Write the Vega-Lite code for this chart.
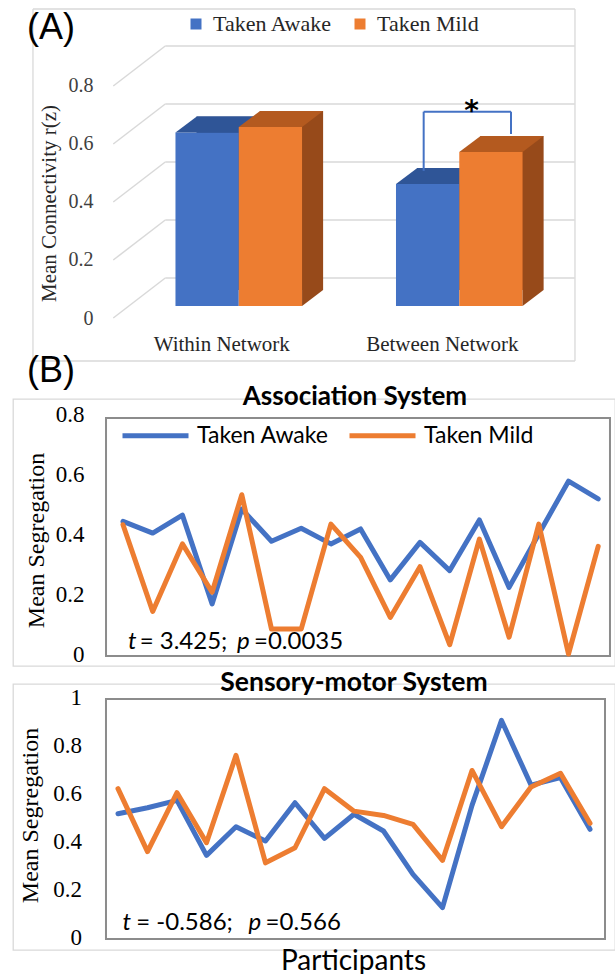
{
  "$schema": "https://vega.github.io/schema/vega-lite/v6.json",
  "padding": {"left": 12, "top": 8, "right": 0, "bottom": 0},
  "background": "white",
  "bounds": "flush",
  "spacing": 18,
  "resolve": {"scale": {"color": "independent"}, "legend": {"color": "independent"}},
  "config": {
    "font": "Lato",
    "view": {"stroke": "#d9d9d9", "strokeWidth": 1.3},
    "axis": {"grid": false, "domain": false, "ticks": false},
    "legend": {"padding": 0}
  },
  "datasets": {
    "bars": [
      {"cat": "Within Network", "series": "Taken Awake", "value": 0.598},
      {"cat": "Within Network", "series": "Taken Mild", "value": 0.617},
      {"cat": "Between Network", "series": "Taken Awake", "value": 0.421},
      {"cat": "Between Network", "series": "Taken Mild", "value": 0.531}
    ],
    "grid": [{"value": 0}, {"value": 0.2}, {"value": 0.4}, {"value": 0.6}, {"value": 0.8}],
    "assoc": [
      {"participant": 1, "series": "Taken Awake", "seg": 0.442},
      {"participant": 2, "series": "Taken Awake", "seg": 0.403},
      {"participant": 3, "series": "Taken Awake", "seg": 0.463},
      {"participant": 4, "series": "Taken Awake", "seg": 0.167},
      {"participant": 5, "series": "Taken Awake", "seg": 0.483},
      {"participant": 6, "series": "Taken Awake", "seg": 0.376},
      {"participant": 7, "series": "Taken Awake", "seg": 0.419},
      {"participant": 8, "series": "Taken Awake", "seg": 0.367},
      {"participant": 9, "series": "Taken Awake", "seg": 0.417},
      {"participant": 10, "series": "Taken Awake", "seg": 0.247},
      {"participant": 11, "series": "Taken Awake", "seg": 0.372},
      {"participant": 12, "series": "Taken Awake", "seg": 0.278},
      {"participant": 13, "series": "Taken Awake", "seg": 0.447},
      {"participant": 14, "series": "Taken Awake", "seg": 0.222},
      {"participant": 15, "series": "Taken Awake", "seg": 0.400},
      {"participant": 16, "series": "Taken Awake", "seg": 0.576},
      {"participant": 17, "series": "Taken Awake", "seg": 0.517},
      {"participant": 1, "series": "Taken Mild", "seg": 0.431},
      {"participant": 2, "series": "Taken Mild", "seg": 0.142},
      {"participant": 3, "series": "Taken Mild", "seg": 0.367},
      {"participant": 4, "series": "Taken Mild", "seg": 0.206},
      {"participant": 5, "series": "Taken Mild", "seg": 0.531},
      {"participant": 6, "series": "Taken Mild", "seg": 0.083},
      {"participant": 7, "series": "Taken Mild", "seg": 0.083},
      {"participant": 8, "series": "Taken Mild", "seg": 0.433},
      {"participant": 9, "series": "Taken Mild", "seg": 0.322},
      {"participant": 10, "series": "Taken Mild", "seg": 0.122},
      {"participant": 11, "series": "Taken Mild", "seg": 0.291},
      {"participant": 12, "series": "Taken Mild", "seg": 0.031},
      {"participant": 13, "series": "Taken Mild", "seg": 0.383},
      {"participant": 14, "series": "Taken Mild", "seg": 0.056},
      {"participant": 15, "series": "Taken Mild", "seg": 0.433},
      {"participant": 16, "series": "Taken Mild", "seg": 0.0},
      {"participant": 17, "series": "Taken Mild", "seg": 0.359}
    ],
    "sensory": [
      {"participant": 1, "series": "Taken Awake", "seg": 0.515},
      {"participant": 2, "series": "Taken Awake", "seg": 0.540},
      {"participant": 3, "series": "Taken Awake", "seg": 0.571},
      {"participant": 4, "series": "Taken Awake", "seg": 0.341},
      {"participant": 5, "series": "Taken Awake", "seg": 0.461},
      {"participant": 6, "series": "Taken Awake", "seg": 0.401},
      {"participant": 7, "series": "Taken Awake", "seg": 0.561},
      {"participant": 8, "series": "Taken Awake", "seg": 0.412},
      {"participant": 9, "series": "Taken Awake", "seg": 0.513},
      {"participant": 10, "series": "Taken Awake", "seg": 0.443},
      {"participant": 11, "series": "Taken Awake", "seg": 0.262},
      {"participant": 12, "series": "Taken Awake", "seg": 0.123},
      {"participant": 13, "series": "Taken Awake", "seg": 0.550},
      {"participant": 14, "series": "Taken Awake", "seg": 0.905},
      {"participant": 15, "series": "Taken Awake", "seg": 0.635},
      {"participant": 16, "series": "Taken Awake", "seg": 0.666},
      {"participant": 17, "series": "Taken Awake", "seg": 0.450},
      {"participant": 1, "series": "Taken Mild", "seg": 0.620},
      {"participant": 2, "series": "Taken Mild", "seg": 0.357},
      {"participant": 3, "series": "Taken Mild", "seg": 0.603},
      {"participant": 4, "series": "Taken Mild", "seg": 0.394},
      {"participant": 5, "series": "Taken Mild", "seg": 0.759},
      {"participant": 6, "series": "Taken Mild", "seg": 0.310},
      {"participant": 7, "series": "Taken Mild", "seg": 0.373},
      {"participant": 8, "series": "Taken Mild", "seg": 0.620},
      {"participant": 9, "series": "Taken Mild", "seg": 0.526},
      {"participant": 10, "series": "Taken Mild", "seg": 0.508},
      {"participant": 11, "series": "Taken Mild", "seg": 0.471},
      {"participant": 12, "series": "Taken Mild", "seg": 0.320},
      {"participant": 13, "series": "Taken Mild", "seg": 0.696},
      {"participant": 14, "series": "Taken Mild", "seg": 0.461},
      {"participant": 15, "series": "Taken Mild", "seg": 0.627},
      {"participant": 16, "series": "Taken Mild", "seg": 0.684},
      {"participant": 17, "series": "Taken Mild", "seg": 0.475}
    ]
  },
  "vconcat": [
    {
      "width": 562,
      "height": 372,
      "view": {"stroke": null},
      "data": {"name": "bars"},
      "resolve": {"scale": {"x": "independent"}},
      "layer": [
        {
          "data": {"values": [{}]},
          "mark": {"type": "rule", "stroke": "#d9d9d9", "strokeWidth": 1.3, "xOffset": -205.8, "x2Offset": 115.7},
          "encoding": {
            "x": {"datum": "Within Network", "type": "nominal", "scale": {"type": "band", "domain": ["Within Network", "Between Network"], "paddingInner": 0.426, "paddingOuter": 0.4873, "align": 0.756}, "axis": null},
            "x2": {"datum": "Between Network"},
            "y": {"datum": 1.0241, "type": "quantitative", "scale": {"domain": [-0.2586, 1.0241], "nice": false, "zero": false}}
          }
        },
        {
          "data": {"values": [{}]},
          "mark": {"type": "rule", "stroke": "#d9d9d9", "strokeWidth": 1.3, "xOffset": -205.8, "x2Offset": 115.7},
          "encoding": {
            "x": {"datum": "Within Network", "type": "nominal", "scale": {"type": "band", "domain": ["Within Network", "Between Network"], "paddingInner": 0.426, "paddingOuter": 0.4873, "align": 0.756}, "axis": null},
            "x2": {"datum": "Between Network"},
            "y": {"datum": -0.1897, "type": "quantitative"}
          }
        },
        {
          "data": {"values": [{}]},
          "mark": {"type": "rule", "stroke": "#d9d9d9", "strokeWidth": 1.3, "xOffset": -205.8},
          "encoding": {
            "x": {"datum": "Within Network", "type": "nominal", "scale": {"type": "band", "domain": ["Within Network", "Between Network"], "paddingInner": 0.426, "paddingOuter": 0.4873, "align": 0.756}, "axis": null},
            "y": {"datum": 1.0241, "type": "quantitative"},
            "y2": {"datum": -0.1897}
          }
        },
        {
          "data": {"values": [{}]},
          "mark": {"type": "rule", "stroke": "#d9d9d9", "strokeWidth": 1.3, "xOffset": 115.7},
          "encoding": {
            "x": {"datum": "Between Network", "type": "nominal", "scale": {"type": "band", "domain": ["Within Network", "Between Network"], "paddingInner": 0.426, "paddingOuter": 0.4873, "align": 0.756}, "axis": null},
            "y": {"datum": 1.0241, "type": "quantitative"},
            "y2": {"datum": -0.1897}
          }
        },
        {
          "data": {"name": "grid"},
          "mark": {"type": "rule", "stroke": "#d9d9d9", "strokeWidth": 1.5, "yOffset": -28, "xOffset": -73.5, "x2Offset": 115.5},
          "encoding": {
            "x": {"datum": "Within Network", "type": "nominal", "scale": {"type": "band", "domain": ["Within Network", "Between Network"], "paddingInner": 0.426, "paddingOuter": 0.4873, "align": 0.756}, "axis": null},
            "x2": {"datum": "Between Network"},
            "y": {"field": "value", "type": "quantitative"}
          }
        },
        {
          "data": {"name": "grid"},
          "mark": {"type": "rule", "stroke": "#d9d9d9", "strokeWidth": 1.5, "xOffset": -125.5, "x2Offset": -73.5, "yOffset": 12, "y2Offset": -28},
          "encoding": {
            "x": {"datum": "Within Network", "type": "nominal", "scale": {"type": "band", "domain": ["Within Network", "Between Network"], "paddingInner": 0.426, "paddingOuter": 0.4873, "align": 0.756}, "axis": null},
            "x2": {"datum": "Within Network"},
            "y": {"field": "value", "type": "quantitative"},
            "y2": {"field": "value"}
          }
        },
        {
          "mark": {"type": "bar", "yOffset": -16, "y2Offset": -16},
          "encoding": {
            "x": {"field": "cat", "type": "nominal", "scale": {"type": "band", "domain": ["Within Network", "Between Network"], "paddingInner": 0.426, "paddingOuter": 0.4873, "align": 0.854}, "axis": null},
            "xOffset": {"field": "series", "type": "nominal", "scale": {"domain": ["Taken Awake", "Taken Mild"], "paddingInner": 0, "paddingOuter": 0}},
            "y": {"field": "value", "type": "quantitative"},
            "fill": {"field": "series", "type": "nominal", "scale": {"domain": ["Taken Awake", "Taken Mild"], "range": ["#2a4a86", "#974a1a"]}, "legend": null}
          }
        },
        {
          "transform": [{"filter": "datum.series === 'Taken Awake'"}],
          "mark": {"type": "bar"},
          "encoding": {
            "x": {"field": "cat", "type": "nominal", "scale": {"type": "band", "domain": ["Within Network", "Between Network"], "paddingInner": 0.426, "paddingOuter": 0.4873, "align": 0.756},
              "axis": {"orient": "bottom", "offset": -37, "labelBaseline": "middle", "labelPadding": 0, "labelOffset": -17, "labelAngle": 0, "labelFont": "Liberation Serif", "labelFontSize": 21, "labelColor": "#262626", "title": null}},
            "xOffset": {"field": "series", "type": "nominal", "scale": {"domain": ["Taken Awake", "Taken Mild"], "paddingInner": 0, "paddingOuter": 0}},
            "y": {"field": "value", "type": "quantitative", "scale": {"domain": [-0.2586, 1.0241], "nice": false, "zero": false},
              "axis": {"values": [0, 0.2, 0.4, 0.6, 0.8], "format": ".1~f", "offset": -82, "labelPadding": 2, "labelOffset": 12, "labelFont": "Liberation Serif", "labelFontSize": 20, "labelColor": "#404040", "title": "Mean Connectivity r(z)", "titleFont": "Liberation Serif", "titleFontSize": 21, "titleFontWeight": "normal", "titleColor": "#262626", "titlePadding": 9, "titleY": 194}},
            "color": {"field": "series", "type": "nominal", "scale": {"domain": ["Taken Awake", "Taken Mild"], "range": ["#4472c4", "#ed7d31"]},
              "legend": {"title": null, "orient": "none", "legendX": 172, "legendY": 4, "direction": "horizontal", "symbolType": "square", "symbolSize": 121, "symbolStrokeWidth": 0, "labelFont": "Liberation Serif", "labelFontSize": 22, "labelColor": "#262626", "labelOffset": 6, "columnPadding": 16}}
          }
        },
        {
          "transform": [{"filter": "datum.series === 'Taken Awake'"}],
          "mark": {"type": "point", "shape": "M -31.65 0 L 31.65 0 L 52.65 -16 L -10.35 -16 Z", "size": 4, "filled": true, "opacity": 1, "strokeWidth": 0, "color": "#2f5597"},
          "encoding": {
            "x": {"field": "cat", "type": "nominal", "scale": {"type": "band", "domain": ["Within Network", "Between Network"], "paddingInner": 0.426, "paddingOuter": 0.4873, "align": 0.756}, "axis": null},
            "xOffset": {"field": "series", "type": "nominal", "scale": {"domain": ["Taken Awake", "Taken Mild"], "paddingInner": 0, "paddingOuter": 0}},
            "y": {"field": "value", "type": "quantitative"}
          }
        },
        {
          "transform": [{"filter": "datum.series === 'Taken Mild'"}],
          "mark": {"type": "bar"},
          "encoding": {
            "x": {"field": "cat", "type": "nominal", "scale": {"type": "band", "domain": ["Within Network", "Between Network"], "paddingInner": 0.426, "paddingOuter": 0.4873, "align": 0.756}, "axis": null},
            "xOffset": {"field": "series", "type": "nominal", "scale": {"domain": ["Taken Awake", "Taken Mild"], "paddingInner": 0, "paddingOuter": 0}},
            "y": {"field": "value", "type": "quantitative"},
            "color": {"field": "series", "type": "nominal", "scale": {"domain": ["Taken Awake", "Taken Mild"], "range": ["#4472c4", "#ed7d31"]},
              "legend": {"title": null, "orient": "none", "legendX": 172, "legendY": 4, "direction": "horizontal", "symbolType": "square", "symbolSize": 121, "symbolStrokeWidth": 0, "labelFont": "Liberation Serif", "labelFontSize": 22, "labelColor": "#262626", "labelOffset": 6, "columnPadding": 16}}
          }
        },
        {
          "transform": [{"filter": "datum.series === 'Taken Mild'"}],
          "mark": {"type": "point", "shape": "M -31.65 0 L 31.65 0 L 52.65 -16 L -10.35 -16 Z", "size": 4, "filled": true, "opacity": 1, "strokeWidth": 0, "color": "#b45a1f"},
          "encoding": {
            "x": {"field": "cat", "type": "nominal", "scale": {"type": "band", "domain": ["Within Network", "Between Network"], "paddingInner": 0.426, "paddingOuter": 0.4873, "align": 0.756}, "axis": null},
            "xOffset": {"field": "series", "type": "nominal", "scale": {"domain": ["Taken Awake", "Taken Mild"], "paddingInner": 0, "paddingOuter": 0}},
            "y": {"field": "value", "type": "quantitative"}
          }
        },
        {
          "transform": [{"filter": "datum.series === 'Taken Mild'"}],
          "mark": {"type": "point", "shape": "M 31.65 0 L 52.65 -16 L 31.65 -16 Z", "size": 4, "filled": true, "opacity": 1, "strokeWidth": 0, "color": "#974a1a"},
          "encoding": {
            "x": {"field": "cat", "type": "nominal", "scale": {"type": "band", "domain": ["Within Network", "Between Network"], "paddingInner": 0.426, "paddingOuter": 0.4873, "align": 0.756}, "axis": null},
            "xOffset": {"field": "series", "type": "nominal", "scale": {"domain": ["Taken Awake", "Taken Mild"], "paddingInner": 0, "paddingOuter": 0}},
            "y": {"datum": 0, "type": "quantitative"}
          }
        },
        {
          "data": {"values": [{}]},
          "mark": {"type": "rule", "stroke": "#4472c4", "strokeWidth": 2, "xOffset": -35.6},
          "encoding": {
            "x": {"datum": "Between Network", "type": "nominal", "scale": {"type": "band", "domain": ["Within Network", "Between Network"], "paddingInner": 0.426, "paddingOuter": 0.4873, "align": 0.756}, "axis": null},
            "y": {"datum": 0.466, "type": "quantitative"},
            "y2": {"datum": 0.670}
          }
        },
        {
          "data": {"values": [{}]},
          "mark": {"type": "rule", "stroke": "#4472c4", "strokeWidth": 2, "xOffset": -35.6, "x2Offset": 51.7},
          "encoding": {
            "x": {"datum": "Between Network", "type": "nominal", "scale": {"type": "band", "domain": ["Within Network", "Between Network"], "paddingInner": 0.426, "paddingOuter": 0.4873, "align": 0.756}, "axis": null},
            "x2": {"datum": "Between Network"},
            "y": {"datum": 0.670, "type": "quantitative"}
          }
        },
        {
          "data": {"values": [{}]},
          "mark": {"type": "rule", "stroke": "#4472c4", "strokeWidth": 2, "xOffset": 51.7},
          "encoding": {
            "x": {"datum": "Between Network", "type": "nominal", "scale": {"type": "band", "domain": ["Within Network", "Between Network"], "paddingInner": 0.426, "paddingOuter": 0.4873, "align": 0.756}, "axis": null},
            "y": {"datum": 0.593, "type": "quantitative"},
            "y2": {"datum": 0.670}
          }
        },
        {
          "data": {"values": [{"star": "*"}]},
          "mark": {"type": "text", "font": "DejaVu Sans", "fontSize": 28, "fontWeight": "bold", "color": "#000000", "baseline": "middle", "align": "center", "xOffset": 12.4},
          "encoding": {
            "x": {"datum": "Between Network", "type": "nominal", "scale": {"type": "band", "domain": ["Within Network", "Between Network"], "paddingInner": 0.426, "paddingOuter": 0.4873, "align": 0.756}, "axis": null},
            "y": {"datum": 0.670, "type": "quantitative"},
            "text": {"field": "star"}
          }
        },
        {
          "data": {"values": [{"panel": "(A)"}]},
          "mark": {"type": "text", "font": "Liberation Sans", "fontSize": 36, "color": "#000000", "baseline": "alphabetic", "align": "left", "xOffset": -211.8},
          "encoding": {
            "x": {"datum": "Within Network", "type": "nominal", "scale": {"type": "band", "domain": ["Within Network", "Between Network"], "paddingInner": 0.426, "paddingOuter": 0.4873, "align": 0.756}, "axis": null},
            "y": {"datum": 0.922, "type": "quantitative"},
            "text": {"field": "panel"}
          }
        }
      ]
    },
    {
      "width": 602,
      "height": 267,
      "layer": [
        {
          "data": {"values": [{}]},
          "mark": {"type": "rect", "fillOpacity": 0, "stroke": "#8c8c8c", "strokeWidth": 2},
          "encoding": {
            "x": {"datum": 0.428, "type": "quantitative", "scale": {"domain": [-2.704, 17.566], "nice": false, "zero": false}, "axis": null},
            "x2": {"datum": 17.397},
            "y": {"datum": 0.787, "type": "quantitative", "scale": {"domain": [-0.04, 0.85], "nice": false, "zero": false}},
            "y2": {"datum": -0.0067}
          }
        },
        {
          "data": {"name": "assoc"},
          "mark": {"type": "line", "strokeWidth": 5, "strokeJoin": "round", "strokeCap": "round"},
          "encoding": {
            "x": {"field": "participant", "type": "quantitative", "scale": {"domain": [-2.704, 17.566], "nice": false, "zero": false}, "axis": null},
            "y": {"field": "seg", "type": "quantitative", "scale": {"domain": [-0.04, 0.85], "nice": false, "zero": false},
              "axis": {"values": [0, 0.2, 0.4, 0.6, 0.8], "format": ".1~f", "offset": -74, "labelPadding": 3, "labelFont": "Liberation Serif", "labelFontSize": 23, "labelColor": "#000000", "title": "Mean Segregation", "titleFont": "Liberation Serif", "titleFontSize": 24, "titleFontWeight": "normal", "titleColor": "#000000", "titlePadding": 7, "titleY": 141}},
            "color": {"field": "series", "type": "nominal", "scale": {"domain": ["Taken Awake", "Taken Mild"], "range": ["#4472c4", "#ed7d31"]},
              "legend": {"title": null, "orient": "none", "legendX": 107, "legendY": 1, "direction": "horizontal", "symbolType": "stroke", "symbolSize": 4356, "symbolStrokeWidth": 5, "labelFont": "Lato", "labelFontSize": 23, "labelColor": "#000000", "labelOffset": 6, "columnPadding": 10}}
          }
        },
        {
          "data": {"values": [{"title": "Association System"}]},
          "mark": {"type": "text", "align": "center", "baseline": "middle", "font": "Lato", "fontSize": 26, "fontWeight": "bold", "color": "#000000"},
          "encoding": {"x": {"datum": 8.81, "type": "quantitative"}, "y": {"datum": 0.8567, "type": "quantitative"}, "text": {"field": "title"}}
        },
        {
          "data": {"values": [{"seg": "t"}]},
          "mark": {"type": "text", "align": "left", "baseline": "middle", "font": "Lato", "fontSize": 24, "fontStyle": "italic", "color": "#000000", "dx": 0},
          "encoding": {"x": {"datum": 1.168, "type": "quantitative"}, "y": {"datum": 0.04, "type": "quantitative"}, "text": {"field": "seg"}}
        },
        {
          "data": {"values": [{"seg": "= 3.425;"}]},
          "mark": {"type": "text", "align": "left", "baseline": "middle", "font": "Lato", "fontSize": 24, "color": "#000000", "dx": 11.7},
          "encoding": {"x": {"datum": 1.168, "type": "quantitative"}, "y": {"datum": 0.04, "type": "quantitative"}, "text": {"field": "seg"}}
        },
        {
          "data": {"values": [{"seg": "p"}]},
          "mark": {"type": "text", "align": "left", "baseline": "middle", "font": "Lato", "fontSize": 24, "fontStyle": "italic", "color": "#000000", "dx": 109},
          "encoding": {"x": {"datum": 1.168, "type": "quantitative"}, "y": {"datum": 0.04, "type": "quantitative"}, "text": {"field": "seg"}}
        },
        {
          "data": {"values": [{"seg": "=0.0035"}]},
          "mark": {"type": "text", "align": "left", "baseline": "middle", "font": "Lato", "fontSize": 24, "color": "#000000", "dx": 126},
          "encoding": {"x": {"datum": 1.168, "type": "quantitative"}, "y": {"datum": 0.04, "type": "quantitative"}, "text": {"field": "seg"}}
        },
        {
          "data": {"values": [{"panel": "(B)"}]},
          "mark": {"type": "text", "align": "left", "baseline": "alphabetic", "font": "Liberation Sans", "fontSize": 36, "color": "#000000"},
          "encoding": {"x": {"datum": -2.233, "type": "quantitative"}, "y": {"datum": 0.907, "type": "quantitative"}, "text": {"field": "panel"}}
        }
      ]
    },
    {
      "width": 602,
      "height": 266,
      "layer": [
        {
          "data": {"values": [{}]},
          "mark": {"type": "rect", "fillOpacity": 0, "stroke": "#8c8c8c", "strokeWidth": 2},
          "encoding": {
            "x": {"datum": 0.593, "type": "quantitative", "scale": {"domain": [-2.559, 17.847], "nice": false, "zero": false}},
            "x2": {"datum": 17.508},
            "y": {"datum": 0.9946, "type": "quantitative", "scale": {"domain": [-0.0543, 1.0573], "nice": false, "zero": false}},
            "y2": {"datum": -0.0084}
          }
        },
        {
          "data": {"name": "sensory"},
          "mark": {"type": "line", "strokeWidth": 5, "strokeJoin": "round", "strokeCap": "round"},
          "encoding": {
            "x": {"field": "participant", "type": "quantitative", "scale": {"domain": [-2.559, 17.847], "nice": false, "zero": false},
              "axis": {"labels": false, "labelPadding": 0, "title": "Participants", "titleFont": "Lato", "titleFontSize": 28, "titleFontWeight": "normal", "titleColor": "#000000", "titlePadding": -3, "titleX": 340}},
            "y": {"field": "seg", "type": "quantitative", "scale": {"domain": [-0.0543, 1.0573], "nice": false, "zero": false},
              "axis": {"values": [0, 0.2, 0.4, 0.6, 0.8, 1], "format": ".1~f", "offset": -71.5, "labelPadding": 3, "labelFont": "Liberation Serif", "labelFontSize": 23, "labelColor": "#000000", "title": "Mean Segregation", "titleFont": "Liberation Serif", "titleFontSize": 24, "titleFontWeight": "normal", "titleColor": "#000000", "titlePadding": 10, "titleY": 131}},
            "color": {"field": "series", "type": "nominal", "scale": {"domain": ["Taken Awake", "Taken Mild"], "range": ["#4472c4", "#ed7d31"]}, "legend": null}
          }
        },
        {
          "data": {"values": [{"title": "Sensory-motor System"}]},
          "mark": {"type": "text", "align": "center", "baseline": "middle", "font": "Lato", "fontSize": 26.5, "fontWeight": "bold", "color": "#000000"},
          "encoding": {"x": {"datum": 9.0, "type": "quantitative"}, "y": {"datum": 1.0615, "type": "quantitative"}, "text": {"field": "title"}}
        },
        {
          "data": {"values": [{"seg": "t"}]},
          "mark": {"type": "text", "align": "left", "baseline": "middle", "font": "Lato", "fontSize": 24, "fontStyle": "italic", "color": "#000000", "dx": 0},
          "encoding": {"x": {"datum": 1.156, "type": "quantitative"}, "y": {"datum": 0.0585, "type": "quantitative"}, "text": {"field": "seg"}}
        },
        {
          "data": {"values": [{"seg": "= -0.586;"}]},
          "mark": {"type": "text", "align": "left", "baseline": "middle", "font": "Lato", "fontSize": 24, "color": "#000000", "dx": 13.7},
          "encoding": {"x": {"datum": 1.156, "type": "quantitative"}, "y": {"datum": 0.0585, "type": "quantitative"}, "text": {"field": "seg"}}
        },
        {
          "data": {"values": [{"seg": "p"}]},
          "mark": {"type": "text", "align": "left", "baseline": "middle", "font": "Lato", "fontSize": 24, "fontStyle": "italic", "color": "#000000", "dx": 126},
          "encoding": {"x": {"datum": 1.156, "type": "quantitative"}, "y": {"datum": 0.0585, "type": "quantitative"}, "text": {"field": "seg"}}
        },
        {
          "data": {"values": [{"seg": "=0.566"}]},
          "mark": {"type": "text", "align": "left", "baseline": "middle", "font": "Lato", "fontSize": 24, "color": "#000000", "dx": 143},
          "encoding": {"x": {"datum": 1.156, "type": "quantitative"}, "y": {"datum": 0.0585, "type": "quantitative"}, "text": {"field": "seg"}}
        }
      ]
    }
  ]
}
